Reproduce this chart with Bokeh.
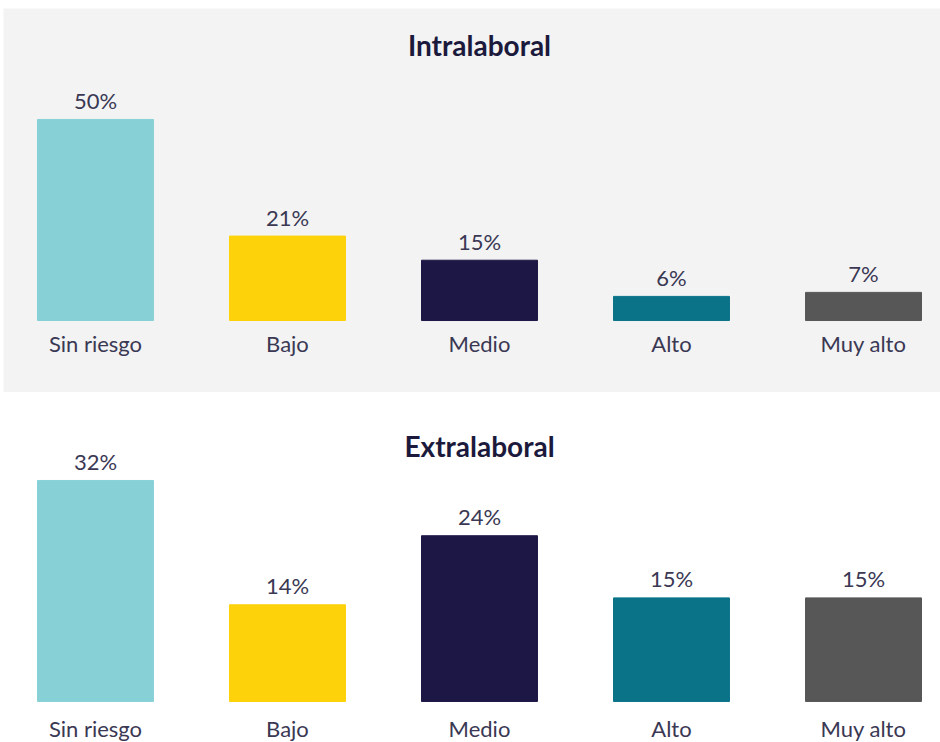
from bokeh.plotting import figure
from bokeh.models import ColumnDataSource, Range1d, Label
from bokeh.layouts import column
from bokeh.embed import file_html
from bokeh.resources import INLINE
from bokeh.core.properties import value

categories = ["Sin riesgo", "Bajo", "Medio", "Alto", "Muy alto"]
intralaboral = [50, 21, 15, 6, 7]
extralaboral = [32, 14, 24, 15, 15]
colors = ["#87d1d6", "#fdd20a", "#1c1745", "#0b7388", "#575757"]

FONT = "Lato"
TEXT_COLOR = "#3a3853"
TITLE_COLOR = "#1c1a3c"


def make_panel(title, vals, height, bg, ystart, yend, cat_y, title_y, border_top):
    p = figure(width=940, height=height, output_backend="svg", toolbar_location=None,
               x_range=Range1d(-0.479, 4.401), y_range=Range1d(ystart, yend),
               min_border=0, min_border_top=border_top, min_border_left=3,
               background_fill_color=bg, border_fill_color="#ffffff",
               outline_line_color=None)
    p.axis.visible = False
    p.grid.visible = False
    src = ColumnDataSource(dict(
        x=list(range(len(categories))), top=vals, color=colors,
        cat=categories, lab=[f"{v}%" for v in vals],
        cy=[cat_y] * len(categories)))
    p.vbar(x="x", top="top", bottom=0, width=0.604, color="color", source=src)
    p.text(x="x", y="top", text="lab", source=src, y_offset=-19,
           text_align="center", text_baseline="middle",
           text_font=value(FONT), text_font_size="22px", text_color=TEXT_COLOR)
    p.text(x="x", y="cy", text="cat", source=src,
           text_align="center", text_baseline="middle",
           text_font=value(FONT), text_font_size="22px", text_color=TEXT_COLOR)
    p.add_layout(Label(x=476, y=title_y, x_units="screen", y_units="screen",
                       text=title, text_align="center", text_baseline="middle",
                       text_font=FONT, text_font_style="bold", text_font_size="28px",
                       text_color=TITLE_COLOR))
    return p


top = make_panel("Intralaboral", intralaboral, 392, "#f3f3f3",
                 -17.9, 77.6, -5.6, 348, 8)
bottom = make_panel("Extralaboral", extralaboral, 350, "#ffffff",
                    -5.94, 44.74, -3.95, 297, 0)

layout = column(top, bottom, spacing=0)
open("out.html", "w").write(file_html(layout, INLINE))
